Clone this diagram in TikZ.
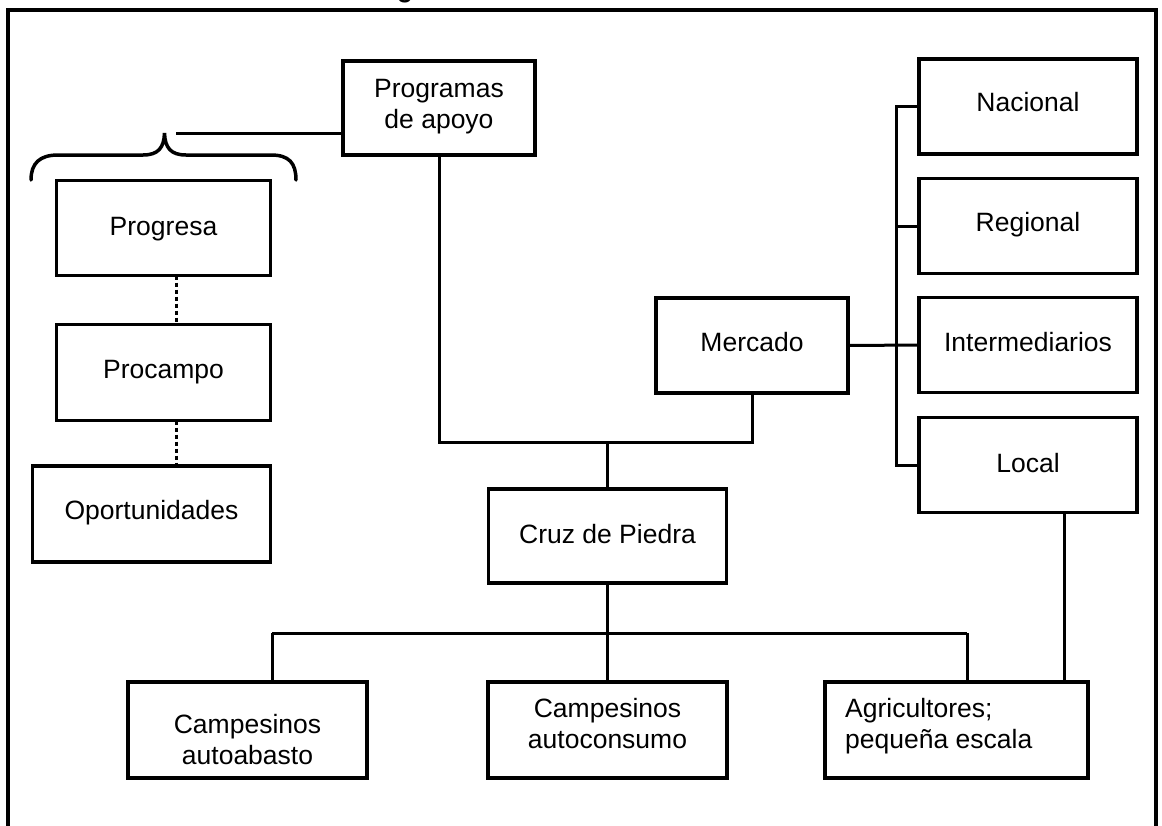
\documentclass[tikz,border=0pt]{standalone}
\usepackage{fontspec}
\setmainfont{Liberation Sans}
\usetikzlibrary{calc}
\begin{document}
\begin{tikzpicture}[x=1pt,y=-1pt,
  box/.style={draw, line width=3.5pt, inner sep=0pt, outer sep=0pt, minimum height=95pt},
  txt/.style={anchor=base, inner sep=0pt, font=\fontsize{26.5}{30.5}\selectfont},
  conn/.style={line width=3pt},
  dotconn/.style={line width=3pt, dash pattern=on 4pt off 3pt}]
\useasboundingbox (0,0) rectangle (1162,825);
\fill[white] (0,0) rectangle (1162,825);
% frame
\draw[line width=4pt] (8,835) -- (8,10) -- (1156,10) -- (1156,835);
% fragment of title
\node[anchor=base, inner sep=0pt, font=\fontsize{26}{30}\selectfont\bfseries] (ttl) at (405,-3) {g};
% boxes
\node[box, minimum width=192pt, minimum height=94pt] (prog) at (439,108) {};
\node[box, minimum width=214pt] (progresa) at (163.5,228) {};
\node[box, minimum width=214pt, minimum height=96pt] (procampo) at (163.5,372.5) {};
\node[box, minimum width=238pt, minimum height=96pt] (oport) at (151.5,514) {};
\node[box, minimum width=218pt] (nac) at (1028,106.5) {};
\node[box, minimum width=218pt] (reg) at (1028,226) {};
\node[box, minimum width=218pt] (inter) at (1028,345) {};
\node[box, minimum width=218pt] (local) at (1028,465) {};
\node[box, minimum width=192pt] (merc) at (752,345.5) {};
\node[box, minimum width=238pt, minimum height=94pt] (cruz) at (607.5,536) {};
\node[box, minimum width=239pt, minimum height=96pt] (b1) at (247.5,730) {};
\node[box, minimum width=239pt, minimum height=96pt] (b2) at (607.5,730) {};
\node[box, minimum width=263pt, minimum height=96pt] (b3) at (956.5,730) {};
% texts
\node[txt, align=center] (tprog) at (439,128) {Programas\\de apoyo};
\node[txt] (tprogresa) at (163.5,235) {Progresa};
\node[txt] (tprocampo) at (163.5,378) {Procampo};
\node[txt] (toport) at (151.5,519) {Oportunidades};
\node[txt] (tnac) at (1028,111) {Nacional};
\node[txt] (treg) at (1028,231) {Regional};
\node[txt] (tinter) at (1028,351) {Intermediarios};
\node[txt] (tlocal) at (1028,472) {Local};
\node[txt] (tmerc) at (752,351) {Mercado};
\node[txt] (tcruz) at (607.5,543) {Cruz de Piedra};
\node[txt, align=center] (tb1) at (247.5,764) {Campesinos\\autoabasto};
\node[txt, align=center] (tb2) at (607.5,748) {Campesinos\\autoconsumo};
\node[txt, align=left, anchor=base west] (tb3) at (845,748) {Agricultores;\\pequeña escala};
% coordinates
\coordinate (j1) at (607.5,442);
\coordinate (j2) at (607.5,633);
\coordinate (h1) at (272,633);
\coordinate (h3) at (967,633);
\coordinate (lx) at (1064,0);
\coordinate (bt) at (896,106.5);
\coordinate (bb) at (896,465);
\coordinate (bl) at (176,133);
\coordinate (dx) at (176,0);
% connectors
\draw[conn] (prog.south) |- (j1) -| (merc.south);
\draw[conn] (j1) -- (cruz.north);
\draw[conn] (cruz.south) -- (j2);
\draw[conn] (h1) -- (h3);
\draw[conn] (h1) -- (h1 |- b1.north);
\draw[conn] (j2) -- (b2.north);
\draw[conn] (h3) -- (h3 |- b3.north);
\draw[conn] (lx |- local.south) -- (lx |- b3.north);
\draw[conn] (nac.west) -- (bt) -- (bb) -- (local.west);
\draw[conn] (bt |- reg.west) -- (reg.west);
\draw[conn] (merc.east) -- (inter.west);
\draw[conn] (bl) -- (bl -| prog.west);
\draw[dotconn] (dx |- progresa.south) -- (dx |- procampo.north);
\draw[dotconn] (dx |- procampo.south) -- (dx |- oport.north);
% brace
\draw[line width=3.5pt, line cap=round]
  (31,180) .. controls (31,163) and (40,155) .. (58,155)
  -- (143,155) .. controls (158,155) and (164,148) .. (164.5,133)
  .. controls (165,148) and (171,155) .. (186,155)
  -- (271,155) .. controls (289,155) and (296,163) .. (296,180);
\end{tikzpicture}
\end{document}
